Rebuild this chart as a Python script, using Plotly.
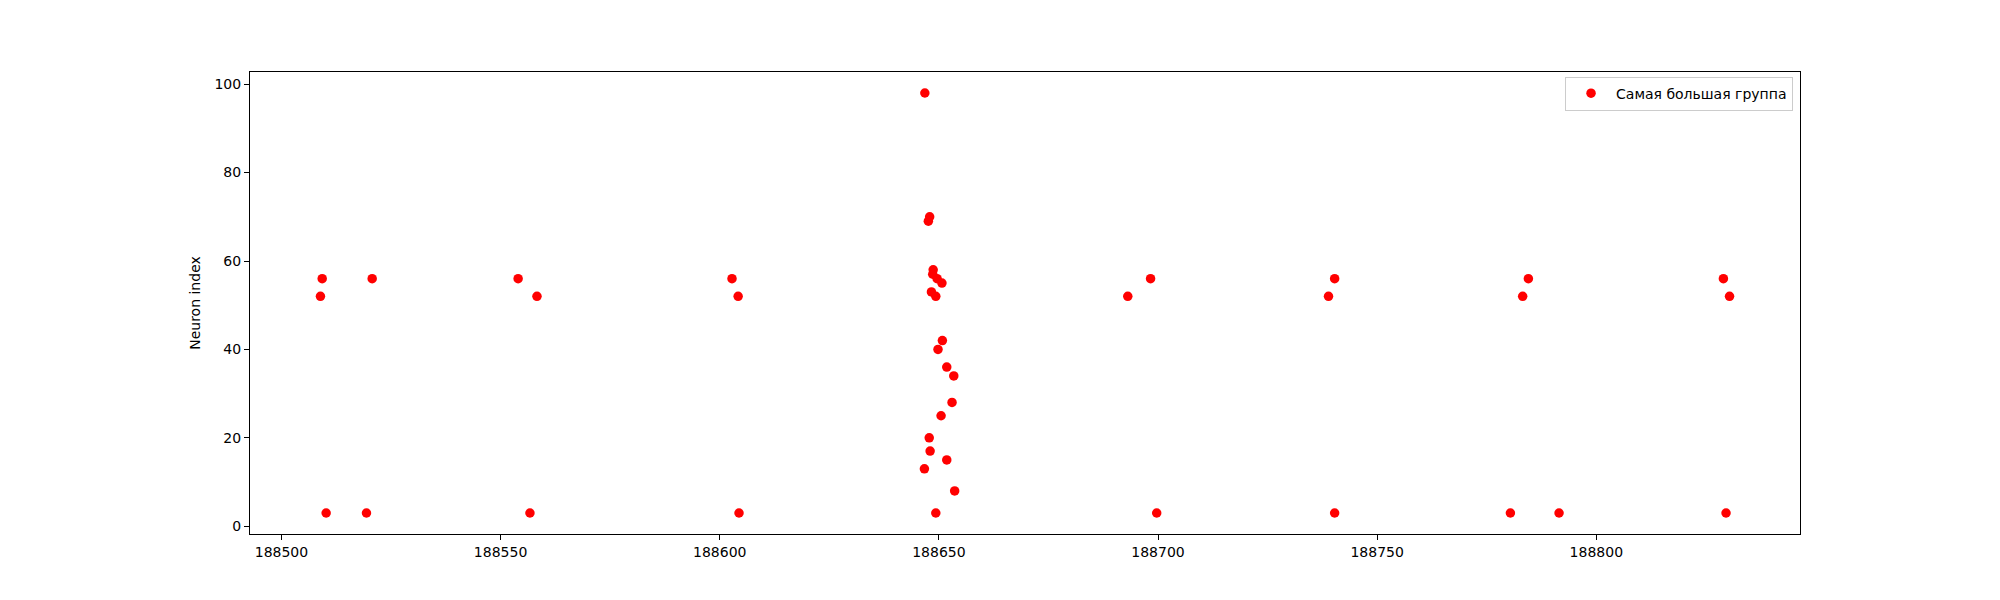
import plotly.graph_objects as go

# --- DATA (spike times vs neuron index) ---
spike_times = [
    188509.3, 188508.9, 188510.2,
    188520.7, 188519.4,
    188554.0, 188558.3, 188556.7,
    188602.8, 188604.2, 188604.4,
    188646.8, 188647.6, 188647.9, 188648.7, 188648.6, 188649.6, 188650.7,
    188648.3, 188649.3, 188650.8, 188649.8, 188651.8, 188653.4, 188653.0,
    188650.5, 188647.8, 188648.0, 188651.8, 188646.7, 188653.6, 188649.3,
    188698.3, 188693.1, 188699.7,
    188740.3, 188738.9, 188740.3,
    188784.5, 188783.2, 188780.4, 188791.5,
    188829.0, 188830.4, 188829.6,
]
neuron_ids = [
    56, 52, 3,
    56, 3,
    56, 52, 3,
    56, 52, 3,
    98, 69, 70, 58, 57, 56, 55,
    53, 52, 42, 40, 36, 34, 28,
    25, 20, 17, 15, 13, 8, 3,
    56, 52, 3,
    56, 52, 3,
    56, 52, 3, 3,
    56, 52, 3,
]
series_name = "Самая большая группа"
x_ticks = [188500, 188550, 188600, 188650, 188700, 188750, 188800]
y_ticks = [0, 20, 40, 60, 80, 100]

FONT = "DejaVu Sans"

# matplotlib style 5% padding around the data
def padded(vals, pad=0.05):
    lo, hi = min(vals), max(vals)
    span = hi - lo
    return [lo - pad * span, hi + pad * span]

fig = go.Figure()
fig.add_trace(go.Scatter(
    x=spike_times, y=neuron_ids,
    mode='markers', name=series_name,
    marker=dict(color='red', size=9.5),
    showlegend=True,
))

axis_common = dict(
    showline=True, linecolor='black', linewidth=1.1, mirror=True,
    ticks='outside', ticklen=5, tickwidth=1.1, tickcolor='black',
    showgrid=False, zeroline=False,
    tickfont=dict(family=FONT, size=14, color='black'),
)

# the page body adds ~8px offset, so margins are nudged to compensate
fig.update_layout(
    width=2000, height=600,
    margin=dict(l=242, r=208, t=64, b=74),
    paper_bgcolor='white', plot_bgcolor='white',
    font=dict(family=FONT, size=14, color='black'),
    showlegend=True,
    legend=dict(
        x=0.9955, y=0.99, xanchor='right', yanchor='top',
        bordercolor='#cccccc', borderwidth=1, bgcolor='rgba(255,255,255,0.8)',
        font=dict(family=FONT, size=14), itemwidth=40,
    ),
    xaxis=dict(range=padded(spike_times), tickvals=x_ticks,
               ticktext=[str(t) for t in x_ticks], **axis_common),
    yaxis=dict(range=padded(neuron_ids), tickvals=y_ticks,
               title=dict(text='Neuron index', standoff=10,
                          font=dict(family=FONT, size=14)),
               **axis_common),
)

fig.write_html("out.html")
